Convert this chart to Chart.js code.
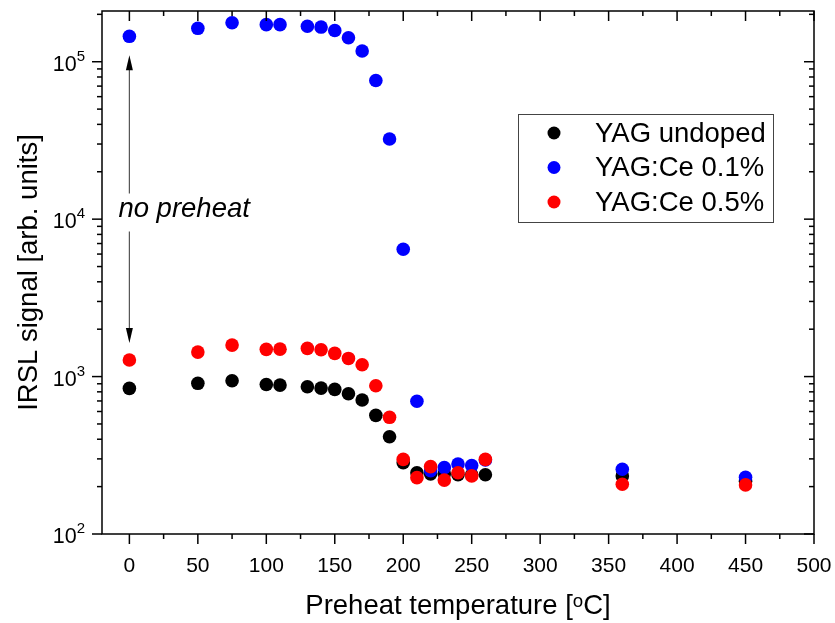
<!DOCTYPE html>
<html><head><meta charset="utf-8">
<script src="https://cdn.jsdelivr.net/npm/chart.js@4/dist/chart.umd.min.js"></script>
<style>html,body{margin:0;padding:0;background:#fff}#wrap{width:835px;height:623px}</style>
</head><body><div id="wrap"><canvas id="c" width="835" height="623"></canvas></div>
<script>
const temperatures = [0,50,75,100,110,130,140,150,160,170,180,190,200,210,220,230,240,250,260,360,450];
const yagUndoped = [841,906,940,891,883,861,845,829,778,710,567,415,284,245,241,241,238,238,238,234,216];
const yagCe01 = [145000,163000,177000,172000,172000,168000,166000,158000,142000,117000,76000,32300,6440,697,252,264,278,272,295,258,229];
const yagCe05 = [1274,1430,1585,1489,1494,1510,1480,1403,1304,1188,874,551,298,228,268,220,245,234,298,207,205];
const seriesNames = ['YAG undoped','YAG:Ce 0.1%','YAG:Ce 0.5%'];
const seriesColors = ['#000000','#0000ff','#ff0000'];
const xTickValues = [0,50,100,150,200,250,300,350,400,450,500];
const yTickValues = [100,1000,10000,100000];
const yTickBase = '10';
const yTickExponents = ['2','3','4','5'];
const xTitle = 'Preheat temperature [\u1D52C]';
const yTitle = 'IRSL signal [arb. units]';
const annotationText = 'no preheat';

const FONT = '"Liberation Sans", Arial, Helvetica, sans-serif';
Chart.defaults.font.family = FONT;
Chart.defaults.color = '#000';

const seriesValues = [yagUndoped, yagCe01, yagCe05];
const datasets = seriesValues.map((vals, i) => ({
  label: seriesNames[i],
  data: temperatures.map((t, j) => ({x: t, y: vals[j]})),
  backgroundColor: seriesColors[i],
  borderColor: seriesColors[i],
  pointRadius: 6.8,
  pointBorderWidth: 0,
  pointHoverRadius: 6.8,
  showLine: false,
  order: 2 - i
}));

function line(ctx, x1, y1, x2, y2) { ctx.beginPath(); ctx.moveTo(x1, y1); ctx.lineTo(x2, y2); ctx.stroke(); }

const framePlugin = {
  id: 'frame',
  afterDatasetsDraw(chart) {
    const {ctx, chartArea: {left, right, top, bottom}, scales: {x, y}} = chart;
    ctx.save();
    ctx.strokeStyle = '#000';
    ctx.lineWidth = 1.5;
    ctx.strokeRect(left, top, right - left, bottom - top);
    // x ticks: majors at label values, minors halfway
    for (let k = 0; k < xTickValues.length; k++) {
      const v = xTickValues[k];
      const px = x.getPixelForValue(v);
      line(ctx, px, bottom, px, bottom + 10);
      line(ctx, px, top, px, top + 10);
      if (k < xTickValues.length - 1) {
        const m = (v + xTickValues[k + 1]) / 2;
        const pm = x.getPixelForValue(m);
        line(ctx, pm, bottom, pm, bottom + 5);
        line(ctx, pm, top, pm, top + 5);
      }
    }
    // y ticks and labels
    for (let k = 0; k < yTickValues.length; k++) {
      const d = yTickValues[k];
      const py = y.getPixelForValue(d);
      line(ctx, left - 10, py, left, py);
      line(ctx, right, py, right - 10, py);
      for (let m = 2; m <= 9; m++) {
        const v = d * m;
        if (v > y.max) break;
        const pm = y.getPixelForValue(v);
        line(ctx, left - 5, pm, left, pm);
        line(ctx, right, pm, right - 5, pm);
      }
      ctx.fillStyle = '#000';
      ctx.textBaseline = 'alphabetic';
      ctx.font = '15px ' + FONT;
      const ew = ctx.measureText(yTickExponents[k]).width;
      const ex = left - 17 - ew;
      ctx.textAlign = 'left';
      ctx.fillText(yTickExponents[k], ex, py - 1);
      ctx.font = '21.5px ' + FONT;
      ctx.textAlign = 'right';
      ctx.fillText(yTickBase, ex, py + 9);
    }
    // annotation arrow "no preheat"
    const ax = x.getPixelForValue(temperatures[0]);
    const upTip = y.getPixelForValue(yagCe01[0]) + 19;
    const downTip = y.getPixelForValue(yagCe05[0]) - 17;
    const ty = y.getPixelForValue(11500);
    ctx.strokeStyle = '#555';
    ctx.lineWidth = 1.2;
    line(ctx, ax, upTip + 12, ax, ty - 16);
    line(ctx, ax, ty + 22, ax, downTip - 12);
    ctx.fillStyle = '#000';
    ctx.beginPath(); ctx.moveTo(ax, upTip); ctx.lineTo(ax - 3.5, upTip + 15); ctx.lineTo(ax + 3.5, upTip + 15); ctx.closePath(); ctx.fill();
    ctx.beginPath(); ctx.moveTo(ax, downTip); ctx.lineTo(ax - 3.5, downTip - 15); ctx.lineTo(ax + 3.5, downTip - 15); ctx.closePath(); ctx.fill();
    ctx.font = 'italic 27.5px ' + FONT;
    ctx.textBaseline = 'middle';
    ctx.textAlign = 'left';
    ctx.fillText(annotationText, ax - 11, ty);
    // legend
    const lx = 518, ly = 114, lw = 255, lh = 108;
    ctx.strokeStyle = '#444';
    ctx.lineWidth = 1;
    ctx.strokeRect(lx + 0.5, ly + 0.5, lw, lh);
    ctx.font = '27.5px ' + FONT;
    for (let i = 0; i < seriesNames.length; i++) {
      const cy = ly + 19 + i * 34.5;
      ctx.fillStyle = seriesColors[i];
      ctx.beginPath(); ctx.arc(lx + 36, cy, 6.5, 0, Math.PI * 2); ctx.fill();
      ctx.fillStyle = '#000';
      ctx.fillText(seriesNames[i], lx + 77, cy + 1);
    }
    ctx.restore();
  }
};

new Chart(document.getElementById('c'), {
  type: 'scatter',
  data: {datasets},
  options: {
    responsive: false,
    animation: false,
    devicePixelRatio: 1,
    layout: {padding: {top: 11, right: 21, left: 0, bottom: 0}},
    plugins: {legend: {display: false}, tooltip: {enabled: false}},
    scales: {
      x: {
        type: 'linear', position: 'bottom', min: -20, max: 500,
        afterBuildTicks: s => { s.ticks = xTickValues.map(v => ({value: v})); },
        afterFit: s => { s.height = 89; s.paddingLeft = 0; s.paddingRight = 0; },
        ticks: {font: {size: 21}, color: '#000', padding: 20, maxRotation: 0, autoSkip: false},
        grid: {display: false, drawTicks: false},
        border: {display: false},
        title: {display: true, text: xTitle, font: {size: 27.5}, color: '#000', padding: {top: 0, bottom: 0}}
      },
      y: {
        type: 'logarithmic', position: 'left', min: 100, max: 210000,
        afterBuildTicks: s => { s.ticks = yTickValues.map(v => ({value: v})); },
        afterFit: s => { s.width = 102; s.paddingTop = 0; s.paddingBottom = 0; },
        ticks: {display: false},
        grid: {display: false, drawTicks: false},
        border: {display: false},
        title: {display: true, text: yTitle, font: {size: 27.5}, color: '#000', padding: {top: 13, bottom: 0}}
      }
    }
  },
  plugins: [framePlugin]
});
</script></body></html>
